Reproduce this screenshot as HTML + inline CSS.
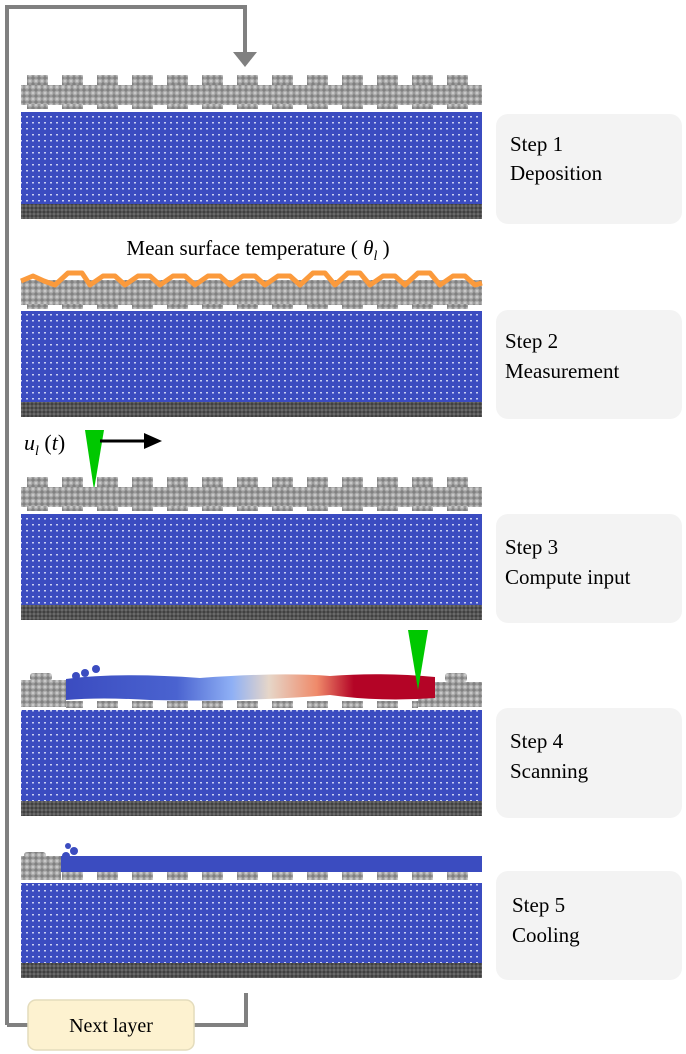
<!DOCTYPE html>
<html><head><meta charset="utf-8"><style>
html,body{margin:0;padding:0;background:#fff;}
svg{display:block}
text{font-family:"Liberation Serif",serif;}
</style></head><body>
<svg width="686" height="1054" viewBox="0 0 686 1054" xmlns="http://www.w3.org/2000/svg">
<defs>
<pattern id="bl" x="0" y="0" width="6" height="6" patternUnits="userSpaceOnUse">
<rect width="6" height="6" fill="#3b4cc0"/><rect x="2" y="2" width="2" height="1.5" fill="#c8cff2"/>
</pattern>
<pattern id="gr" x="0" y="0" width="6" height="6" patternUnits="userSpaceOnUse">
<rect width="6" height="6" fill="#808080"/><circle cx="3" cy="3" r="2.8" fill="#a8a8a8"/><circle cx="3" cy="3" r="1.4" fill="#c8c8c8"/>
</pattern>
<pattern id="dk" x="0" y="0" width="4" height="4" patternUnits="userSpaceOnUse">
<rect width="4" height="4" fill="#3c3c3c"/><circle cx="2" cy="2" r="1.6" fill="#6a6a6a"/>
</pattern>
<pattern id="bump" x="27" y="0" width="35" height="1054" patternUnits="userSpaceOnUse">
<rect x="0" y="0" width="21" height="1054" rx="4" fill="url(#gr)"/>
</pattern>
</defs>

<polyline points="7,1025 7,7 245,7 245,55" fill="none" stroke="#808080" stroke-width="4"/>
<polygon points="233,52 257,52 245,67" fill="#808080"/>
<polyline points="7,1025 28,1025" fill="none" stroke="#808080" stroke-width="4"/>
<polyline points="194,1025 246,1025 246,993" fill="none" stroke="#808080" stroke-width="4"/>
<rect x="28" y="1000" width="166" height="50" rx="8" fill="#fdf2d0" stroke="#e4dcbc" stroke-width="1.5"/>
<text x="111" y="1032" font-size="20" text-anchor="middle">Next layer</text>

<!-- Panel 1 -->
<rect x="21" y="75" width="461" height="12" fill="url(#bump)"/>
<rect x="21" y="85" width="461" height="20" fill="url(#gr)"/>
<rect x="21" y="104" width="461" height="5" fill="url(#bump)"/>
<rect x="21" y="112" width="461" height="92" fill="url(#bl)"/>
<rect x="21" y="204" width="461" height="15" fill="url(#dk)"/>

<text x="258" y="255" font-size="21" text-anchor="middle">Mean surface temperature ( <tspan font-style="italic">θ</tspan><tspan font-style="italic" font-size="14" dy="5">l</tspan><tspan dy="-5"> )</tspan></text>

<!-- Panel 2 -->
<rect x="21" y="280" width="461" height="25" fill="url(#gr)"/>
<rect x="21" y="304" width="461" height="5" fill="url(#bump)"/>
<polyline points="21,281 33,276 44,281 55,285 68,273 82,273 90,285 103,276 115,276 125,285 138,276 150,276 160,285 173,276 185,276 195,285 208,276 220,276 230,285 243,276 255,276 265,285 278,276 290,276 300,285 313,273 325,273 335,285 348,273 360,273 370,285 383,276 395,276 405,285 418,273 430,273 440,285 453,276 465,276 475,285 482,283" fill="none" stroke="#fb9a3c" stroke-width="5" stroke-linejoin="round"/>
<rect x="21" y="311" width="461" height="91" fill="url(#bl)"/>
<rect x="21" y="402" width="461" height="15" fill="url(#dk)"/>

<text x="24" y="450" font-size="22" font-style="italic">u<tspan font-size="14" dy="5">l</tspan><tspan dy="-5" font-style="normal"> (</tspan>t<tspan font-style="normal">)</tspan></text>
<polygon points="85,430 104,430 94,490" fill="#00c800"/>
<line x1="100" y1="441" x2="148" y2="441" stroke="#000" stroke-width="3"/>
<polygon points="144,433 162,441 144,449" fill="#000"/>

<!-- Panel 3 -->
<rect x="21" y="477" width="461" height="12" fill="url(#bump)"/>
<rect x="21" y="487" width="461" height="20" fill="url(#gr)"/>
<rect x="21" y="506" width="461" height="5" fill="url(#bump)"/>
<rect x="21" y="514" width="461" height="91" fill="url(#bl)"/>
<rect x="21" y="605" width="461" height="15" fill="url(#dk)"/>

<!-- Panel 4 -->
<defs><linearGradient id="cw" x1="0" x2="1">
<stop offset="0" stop-color="#3b4cc0"/><stop offset="0.3" stop-color="#4a63d0"/><stop offset="0.45" stop-color="#8fb0f5"/><stop offset="0.55" stop-color="#e6d6c8"/><stop offset="0.68" stop-color="#ef8a6a"/><stop offset="0.78" stop-color="#b40426"/><stop offset="1" stop-color="#b40426"/>
</linearGradient></defs>
<rect x="21" y="680" width="45" height="27" fill="url(#gr)"/>
<rect x="30" y="673" width="22" height="8" rx="3" fill="url(#gr)"/>
<rect x="418" y="682" width="64" height="25" fill="url(#gr)"/>
<rect x="445" y="673" width="22" height="9" rx="3" fill="url(#gr)"/>
<rect x="66" y="701" width="352" height="7" fill="url(#bump)"/>
<path d="M66,679 Q120,672 200,678 Q280,672 330,676 Q380,672 435,677 L435,698 Q380,702 330,695 Q250,702 150,700 Q100,697 66,700 Z" fill="url(#cw)"/>
<circle cx="76" cy="676" r="4" fill="#3b4cc0"/><circle cx="85" cy="673" r="4" fill="#3b4cc0"/><circle cx="96" cy="669" r="4" fill="#3b4cc0"/>
<polygon points="408,630 428,630 418,690" fill="#00c800"/>
<rect x="21" y="710" width="461" height="91" fill="url(#bl)"/>
<rect x="21" y="801" width="461" height="15" fill="url(#dk)"/>

<!-- Panel 5 -->
<rect x="21" y="856" width="40" height="24" fill="url(#gr)"/>
<rect x="24" y="852" width="22" height="6" rx="3" fill="url(#gr)"/>
<rect x="61" y="872" width="421" height="8" fill="url(#bump)"/>
<rect x="61" y="856" width="421" height="16" fill="#3b4cc0"/>
<circle cx="66" cy="856" r="4" fill="#3b4cc0"/><circle cx="74" cy="851" r="4" fill="#3b4cc0"/><circle cx="68" cy="846" r="3" fill="#3b4cc0"/>
<rect x="21" y="883" width="461" height="80" fill="url(#bl)"/>
<rect x="21" y="963" width="461" height="15" fill="url(#dk)"/>

<g font-size="21" fill="#000">
<rect x="496" y="114" width="186" height="110" rx="12" fill="#f3f3f3"/>
<text x="510" y="151">Step 1</text><text x="510" y="180">Deposition</text>
<rect x="496" y="310" width="186" height="109" rx="12" fill="#f3f3f3"/>
<text x="505" y="348">Step 2</text><text x="505" y="378">Measurement</text>
<rect x="496" y="514" width="186" height="109" rx="12" fill="#f3f3f3"/>
<text x="505" y="554">Step 3</text><text x="505" y="584">Compute input</text>
<rect x="496" y="708" width="186" height="110" rx="12" fill="#f3f3f3"/>
<text x="510" y="748">Step 4</text><text x="510" y="778">Scanning</text>
<rect x="496" y="871" width="186" height="109" rx="12" fill="#f3f3f3"/>
<text x="512" y="912">Step 5</text><text x="512" y="942">Cooling</text>
</g>
</svg>
</body></html>
